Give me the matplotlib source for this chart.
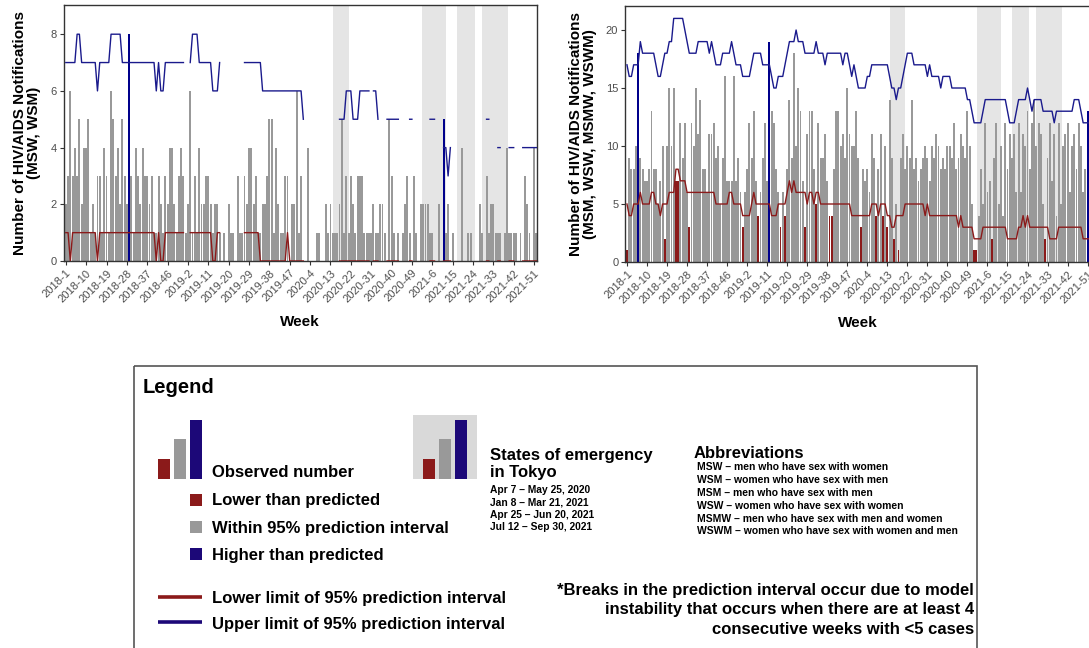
import numpy as np
import matplotlib
matplotlib.use('Agg')
import matplotlib.pyplot as plt
from matplotlib.patches import Rectangle

plt.rcParams['font.family'] = ['Liberation Sans', 'DejaVu Sans']

nan = np.nan

# ISO weeks per year on the x axis (2018 has 53)
years = [2018, 2019, 2020, 2021]
weeks_in_year = [53, 52, 52, 52]

# States of emergency in Tokyo, as positions on the week axis
emergency_start = [118.0, 157.4, 172.8, 184.0]
emergency_end = [125.0, 167.9, 180.8, 195.4]
emergency_labels = ['Apr 7 \u2013 May 25, 2020', 'Jan 8 \u2013 Mar 21, 2021',
                    'Apr 25 \u2013 Jun 20, 2021', 'Jul 12 \u2013 Sep 30, 2021']

# Weekly notifications, MSW + WSM
msw_wsm = [
    2, 3, 6, 3, 4, 3, 5, 2, 4, 4,
    5, 1, 2, 1, 3, 3, 1, 4, 3, 1,
    6, 5, 3, 4, 2, 5, 3, 2, 8, 3,
    1, 4, 3, 2, 4, 3, 3, 2, 3, 1,
    1, 3, 2, 1, 3, 2, 4, 4, 2, 1,
    3, 4, 3, 1, 2, 6, 1, 3, 1, 4,
    2, 2, 3, 3, 2, 1, 2, 2, 1, 0,
    1, 0, 2, 1, 1, 0, 3, 1, 1, 3,
    2, 4, 4, 2, 3, 1, 1, 2, 2, 3,
    5, 5, 1, 4, 2, 1, 1, 3, 3, 0,
    2, 2, 6, 1, 3, 0, 0, 4, 0, 0,
    0, 1, 1, 0, 0, 2, 1, 2, 1, 1,
    1, 2, 5, 1, 3, 1, 3, 2, 1, 3,
    3, 3, 1, 1, 1, 1, 2, 1, 1, 2,
    2, 1, 0, 5, 3, 1, 0, 1, 0, 1,
    2, 3, 1, 0, 3, 1, 0, 2, 2, 2,
    2, 1, 1, 0, 0, 2, 0, 5, 1, 2,
    0, 1, 0, 0, 0, 4, 0, 0, 1, 1,
    0, 0, 0, 2, 1, 0, 3, 1, 2, 2,
    1, 1, 1, 0, 1, 4, 1, 1, 1, 1,
    0, 1, 0, 3, 2, 1, 0, 4, 1]

msw_wsm_upper = [
    7, 7, 7, 7, 7, 8, 8, 7, 7, 7,
    7, 7, 7, 7, 6, 7, 7, 7, 7, 7,
    8, 8, 8, 8, 8, 7, 7, 7, 7, 7,
    7, 7, 7, 7, 7, 7, 7, 7, 7, 7,
    6, 7, 6, 6, 7, 7, 7, 7, 7, 7,
    7, 7, 7, nan, nan, 7, 8, 8, 8, 7,
    7, 7, 7, 7, 7, 6, 6, 6, 7, nan,
    nan, nan, nan, nan, nan, nan, nan, nan, nan, 7,
    7, 7, 7, 7, 7, 7, 7, 6, 6, 6,
    6, 6, 6, 6, 6, 6, 6, 6, 6, 6,
    6, 6, 6, 6, 6, 5, nan, nan, nan, nan,
    nan, nan, nan, nan, nan, nan, nan, nan, nan, nan,
    nan, 5, 5, 5, 6, 6, 6, 5, 5, 5,
    6, 6, 6, 6, 6, nan, 6, 6, 5, nan,
    nan, nan, 5, 5, 5, 5, 5, 5, nan, nan,
    nan, nan, 5, 5, nan, nan, nan, nan, nan, nan,
    nan, 5, 5, 5, nan, nan, nan, 4, 4, 3,
    4, nan, nan, nan, nan, nan, nan, nan, nan, nan,
    nan, nan, nan, nan, nan, nan, 5, 5, nan, nan,
    nan, 4, 4, nan, nan, nan, 4, 4, 4, nan,
    nan, nan, 4, 4, 4, 4, 4, 4, 4]

msw_wsm_lower = [
    1, 1, 0, 1, 1, 1, 1, 1, 1, 1,
    1, 1, 1, 1, 0, 1, 1, 1, 1, 1,
    1, 1, 1, 1, 1, 1, 1, 1, 1, 1,
    1, 1, 1, 1, 1, 1, 1, 1, 1, 1,
    0, 1, 0, 0, 1, 1, 1, 1, 1, 1,
    1, 1, 1, nan, nan, 1, 1, 1, 1, 1,
    1, 1, 1, 1, 1, 0, 0, 1, 1, nan,
    nan, nan, nan, nan, nan, nan, nan, nan, nan, 1,
    1, 1, 1, 1, 1, 1, 0, 0, 0, 0,
    0, 0, 0, 0, 0, 0, 0, 0, 1, 0,
    0, 0, 0, 0, 0, 0, nan, nan, nan, nan,
    nan, nan, nan, nan, nan, nan, nan, nan, nan, nan,
    nan, 0, 0, 0, 0, 0, 0, 0, 0, 0,
    0, 0, 0, 0, 0, nan, 0, 0, 0, nan,
    nan, nan, 0, 0, 0, 0, 0, 0, nan, nan,
    nan, nan, 0, 0, nan, nan, nan, nan, nan, nan,
    nan, 0, 0, 0, nan, nan, nan, 0, 0, 0,
    0, nan, nan, nan, nan, nan, nan, nan, nan, nan,
    nan, nan, nan, nan, nan, nan, 0, 0, nan, nan,
    nan, 0, 0, nan, nan, nan, 0, 0, 0, nan,
    nan, nan, 0, 0, 0, 0, 0, 0, 0]

# Weekly notifications, MSM + WSW + MSMW + WSWM
msm_wsw = [
    1, 9, 8, 8, 10, 18, 9, 8, 7, 7,
    8, 13, 8, 8, 5, 7, 10, 2, 10, 15,
    10, 15, 7, 7, 12, 9, 12, 6, 3, 12,
    10, 15, 11, 14, 8, 8, 6, 11, 11, 12,
    9, 10, 5, 9, 16, 7, 7, 7, 16, 7,
    9, 6, 3, 6, 8, 12, 9, 13, 7, 4,
    6, 9, 12, 7, 19, 13, 12, 8, 6, 3,
    6, 4, 8, 14, 9, 18, 10, 15, 13, 7,
    3, 11, 13, 13, 8, 5, 12, 9, 9, 11,
    7, 4, 4, 8, 13, 13, 10, 11, 9, 15,
    11, 10, 10, 13, 9, 3, 8, 7, 8, 6,
    11, 9, 4, 8, 11, 4, 10, 3, 14, 9,
    2, 5, 1, 9, 11, 8, 10, 9, 14, 8,
    9, 7, 8, 9, 10, 9, 7, 10, 9, 11,
    10, 8, 9, 8, 10, 10, 9, 12, 8, 9,
    11, 10, 9, 13, 10, 5, 1, 1, 4, 8,
    5, 12, 6, 7, 2, 9, 12, 5, 10, 4,
    12, 8, 11, 9, 11, 6, 12, 6, 11, 10,
    13, 8, 12, 14, 10, 12, 11, 5, 2, 9,
    12, 7, 11, 4, 12, 5, 10, 11, 12, 6,
    10, 11, 8, 12, 10, 6, 8, 13, 8]

msm_wsw_upper = [
    17, 16, 16, 17, 17, 17, 19, 18, 18, 18,
    18, 18, 18, 17, 16, 16, 17, 18, 18, 19,
    19, 21, 21, 21, 21, 21, 20, 19, 18, 18,
    18, 18, 19, 19, 19, 19, 19, 18, 19, 18,
    17, 17, 17, 18, 18, 18, 18, 19, 18, 17,
    17, 17, 16, 16, 16, 16, 17, 18, 18, 18,
    18, 17, 17, 17, 17, 16, 15, 15, 16, 16,
    16, 17, 18, 19, 19, 19, 20, 19, 19, 19,
    18, 18, 18, 18, 18, 19, 18, 18, 18, 17,
    18, 18, 18, 18, 18, 18, 18, 17, 18, 18,
    17, 16, 17, 16, 15, 15, 15, 15, 16, 16,
    17, 17, 17, 17, 17, 17, 17, 17, 16, 15,
    15, 14, 15, 15, 16, 17, 18, 18, 18, 17,
    17, 17, 17, 17, 17, 16, 17, 16, 16, 16,
    16, 15, 16, 16, 16, 16, 15, 15, 15, 15,
    15, 15, 15, 14, 14, 13, 12, 12, 12, 12,
    13, 14, 14, 14, 14, 14, 14, 14, 14, 14,
    14, 13, 12, 12, 12, 13, 14, 14, 14, 14,
    15, 14, 13, 14, 14, 14, 14, 13, 13, 13,
    13, 13, 12, 13, 13, 13, 13, 13, 13, 13,
    13, 14, 14, 14, 13, 12, 12, 12, 12]

msm_wsw_lower = [
    5, 4, 4, 5, 5, 5, 6, 5, 5, 5,
    5, 6, 6, 5, 5, 4, 5, 5, 5, 6,
    6, 6, 8, 8, 7, 7, 7, 6, 6, 6,
    6, 6, 6, 6, 6, 6, 6, 6, 6, 6,
    5, 5, 5, 5, 5, 5, 6, 6, 5, 5,
    5, 5, 4, 4, 4, 4, 5, 6, 5, 5,
    5, 5, 5, 5, 5, 4, 4, 4, 5, 5,
    5, 5, 6, 7, 6, 7, 6, 6, 6, 6,
    6, 5, 6, 6, 5, 6, 6, 5, 5, 5,
    5, 5, 5, 5, 5, 5, 5, 5, 5, 5,
    5, 4, 4, 4, 4, 4, 4, 4, 4, 4,
    5, 5, 5, 4, 5, 5, 5, 4, 4, 3,
    3, 4, 4, 4, 4, 5, 5, 5, 5, 5,
    5, 5, 5, 5, 4, 5, 4, 4, 4, 4,
    4, 4, 4, 4, 4, 4, 4, 4, 4, 3,
    4, 3, 3, 3, 3, 3, 2, 2, 2, 2,
    3, 3, 3, 3, 3, 3, 3, 3, 3, 3,
    3, 2, 2, 2, 2, 2, 3, 3, 4, 3,
    4, 3, 3, 3, 3, 3, 3, 3, 3, 3,
    2, 2, 2, 2, 3, 3, 3, 3, 3, 3,
    3, 3, 3, 3, 3, 2, 2, 2, 2]

abbreviations = [
    ('MSW', 'men who have sex with women'),
    ('WSM', 'women who have sex with men'),
    ('MSM', 'men who have sex with men'),
    ('WSW', 'women who have sex with women'),
    ('MSMW', 'men who have sex with men and women'),
    ('WSWM', 'women who have sex with women and men'),
]

RED = '#8b1a1a'
GREY = '#999999'
BLUE = '#00008b'
NAVY = '#1a1a8c'
SHADE = '#e5e5e5'
LEG_BLUE = '#1c0878'

W, H = 1089, 648
fig = plt.figure(figsize=(W / 100, H / 100), dpi=100)


def axes_px(x0, x1, y0, y1):
    return fig.add_axes([x0 / W, 1 - y1 / H, (x1 - x0) / W, (y1 - y0) / H])


week_labels = [f'{y}-{w}' for y, n in zip(years, weeks_in_year) for w in range(1, n + 1)]


def draw_panel(ax, counts, lower, upper, ymax, yticks):
    x = np.arange(len(counts))
    counts = np.asarray(counts, float)
    lo = np.asarray(lower, float)
    hi = np.asarray(upper, float)
    # bar colour: below / inside / above the prediction interval
    colors = np.where(counts < lo, RED, np.where(counts > hi, BLUE, GREY))

    for s, e in zip(emergency_start, emergency_end):
        ax.axvspan(s, e, color=SHADE, lw=0, zorder=0)
    ax.bar(x, counts, width=0.85, color=colors, lw=0, zorder=2)
    ax.plot(x, lo, color=RED, lw=1.0, zorder=3)
    ax.plot(x, hi, color=NAVY, lw=1.0, zorder=3)

    ax.set_xlim(-0.8, 208.3)
    ax.set_ylim(0, ymax)
    ax.set_yticks(yticks)
    ax.set_xticks(x[::9])
    ax.set_xticklabels(week_labels[::9])
    ax.tick_params(axis='both', direction='out', length=3, width=0.8, color='#333333',
                   labelcolor='#4d4d4d', labelsize=8, pad=2)
    plt.setp(ax.get_xticklabels(), rotation=45, ha='right', va='top', rotation_mode='anchor')
    for sp in ax.spines.values():
        sp.set_color('#333333')
        sp.set_linewidth(1.0)


ax1 = axes_px(64, 537, 5, 261)
draw_panel(ax1, msw_wsm, msw_wsm_lower, msw_wsm_upper, 9.03, [0, 2, 4, 6, 8])
ax2 = axes_px(625.2, 1090.5, 6, 262)
draw_panel(ax2, msm_wsw, msm_wsw_lower, msm_wsw_upper, 22.07, [0, 5, 10, 15, 20])

fig.text(27 / W, 1 - 133 / H, 'Number of HIV/AIDS Notifications\n(MSW, WSM)', rotation=90,
         ha='center', va='center', multialignment='center', fontsize=11, fontweight='bold',
         linespacing=1.05)
fig.text(583 / W, 1 - 134 / H, 'Number of HIV/AIDS Notifications\n(MSM, WSW, MSMW, WSWM)',
         rotation=90, ha='center', va='center', multialignment='center', fontsize=11,
         fontweight='bold', linespacing=1.05)
fig.text(300 / W, 1 - 322 / H, 'Week', ha='center', va='center', fontsize=11, fontweight='bold')
fig.text(858 / W, 1 - 323 / H, 'Week', ha='center', va='center', fontsize=11, fontweight='bold')

# ---- legend panel, drawn in pixel coordinates ----
lax = fig.add_axes([0, 0, 1, 1])
lax.set_xlim(0, W)
lax.set_ylim(H, 0)
lax.axis('off')

lax.add_patch(Rectangle((134, 366), 843, 300, fill=False, ec='#555555', lw=1.2, clip_on=False))
lax.text(143, 393, 'Legend', fontsize=14.5, fontweight='bold', va='baseline')


def mini_bars(x0):
    for dx, top, c in [(0, 459, RED), (16.3, 439, GREY), (32.3, 420, LEG_BLUE)]:
        lax.add_patch(Rectangle((x0 + dx, top), 12.2, 478.7 - top, fc=c, lw=0))


mini_bars(157.7)
item_kw = dict(fontsize=12, fontweight='bold', va='baseline')
lax.text(211.7, 477.3, 'Observed number', **item_kw)
for top, c, label, base in [(494.3, RED, 'Lower than predicted', 505.5),
                            (521.3, GREY, 'Within 95% prediction interval', 532.5),
                            (548.0, LEG_BLUE, 'Higher than predicted', 559.8)]:
    lax.add_patch(Rectangle((190, top), 12, 11.6, fc=c, lw=0))
    lax.text(211.7, base, label, **item_kw)

lax.plot([157.7, 201.7], [597.3, 597.3], color=RED, lw=2.6, solid_capstyle='butt')
lax.text(211.7, 603.3, 'Lower limit of 95% prediction interval', **item_kw)
lax.plot([157.7, 201.7], [622.3, 622.3], color=LEG_BLUE, lw=2.6, solid_capstyle='butt')
lax.text(211.7, 628.5, 'Upper limit of 95% prediction interval', **item_kw)

# state-of-emergency key
lax.add_patch(Rectangle((412.7, 415), 64, 63.7, fc='#d9d9d9', lw=0))
mini_bars(422.7)
lax.text(490, 460, 'States of emergency', fontsize=12, fontweight='bold', va='baseline')
lax.text(490, 477.3, 'in Tokyo', fontsize=12, fontweight='bold', va='baseline')
for k, lab in enumerate(emergency_labels):
    lax.text(490, 492.7 + 12.4 * k, lab, fontsize=7.4, fontweight='bold', va='baseline')

lax.text(694, 458.3, 'Abbreviations', fontsize=12, fontweight='bold', va='baseline')
for k, (ab, desc) in enumerate(abbreviations):
    lax.text(697, 470.5 + 12.8 * k, f'{ab} \u2013 {desc}', fontsize=7.5, fontweight='bold',
             va='baseline')

note = ['*Breaks in the prediction interval occur due to model',
        'instability that occurs when there are at least 4',
        'consecutive weeks with <5 cases']
for line, base in zip(note, [595, 614, 634.5]):
    lax.text(974, base, line, fontsize=12, fontweight='bold', ha='right', va='baseline')

fig.savefig('out.png', dpi=100)
